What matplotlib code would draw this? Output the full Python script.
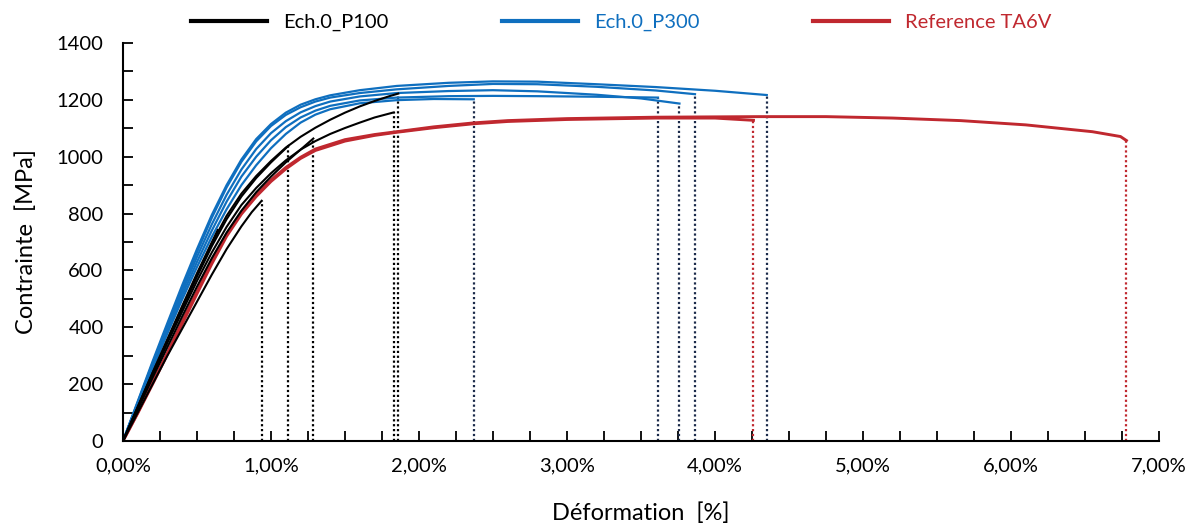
import matplotlib
matplotlib.use("Agg")
import matplotlib.pyplot as plt
from matplotlib.ticker import MultipleLocator, FuncFormatter

plt.rcParams['font.family'] = ['Lato', 'DejaVu Sans']

# ---- data (strain in %, stress in MPa) ----
# Ech.0_P100 (black)
k1_x = [0, 0.1, 0.2, 0.3, 0.4, 0.5, 0.6, 0.7, 0.8, 0.87, 0.937]
k1_y = [0, 100, 200, 300, 395, 490, 585, 675, 755, 805, 845]
k2_x = [0, 0.1, 0.2, 0.3, 0.4, 0.5, 0.6, 0.7, 0.8, 0.9, 1.0, 1.117]
k2_y = [0, 118, 235, 350, 465, 578, 685, 780, 860, 925, 980, 1038]
k3_x = [0, 0.1, 0.2, 0.3, 0.4, 0.5, 0.6, 0.7, 0.8, 0.9, 1.0, 1.1, 1.2, 1.286]
k3_y = [0, 112, 222, 330, 438, 543, 643, 733, 810, 875, 930, 980, 1025, 1064]
k4_x = [0, 0.1, 0.2, 0.3, 0.4, 0.5, 0.6, 0.7, 0.8, 0.9, 1.0, 1.1, 1.2, 1.3, 1.4, 1.5, 1.6, 1.7, 1.83]
k4_y = [0, 115, 230, 345, 455, 563, 663, 753, 830, 890, 942, 987, 1025, 1055, 1080, 1101, 1120, 1138, 1156]
k5_x = [0, 0.1, 0.2, 0.3, 0.4, 0.5, 0.6, 0.7, 0.8, 0.9, 1.0, 1.1, 1.2, 1.3, 1.4, 1.5, 1.6, 1.7, 1.8, 1.86]
k5_y = [0, 120, 240, 355, 470, 585, 695, 792, 870, 932, 985, 1032, 1070, 1102, 1130, 1155, 1177, 1196, 1213, 1222]
k6_x = [0, 0.1, 0.2, 0.3, 0.4, 0.5, 0.64]
k6_y = [0, 120, 240, 358, 475, 590, 742]

# Ech.0_P300 (blue)
b1_x = [0, 0.1, 0.2, 0.3, 0.4, 0.5, 0.6, 0.7, 0.8, 0.9, 1.0, 1.1, 1.2, 1.3, 1.4, 1.6, 1.85, 2.1, 2.37]
b1_y = [0, 128, 255, 378, 498, 612, 718, 815, 900, 970, 1030, 1080, 1120, 1148, 1167, 1188, 1199, 1203, 1202]
b2_x = [0, 0.1, 0.2, 0.3, 0.4, 0.5, 0.6, 0.7, 0.8, 0.9, 1.0, 1.1, 1.2, 1.3, 1.4, 1.6, 1.85, 2.2, 2.5, 2.8, 3.2, 3.615]
b2_y = [0, 131, 262, 388, 512, 630, 740, 842, 930, 1000, 1058, 1104, 1138, 1162, 1179, 1198, 1208, 1213, 1214, 1213, 1211, 1208]
b3_x = [0, 0.1, 0.2, 0.3, 0.4, 0.5, 0.6, 0.7, 0.8, 0.9, 1.0, 1.1, 1.2, 1.3, 1.4, 1.6, 1.85, 2.2, 2.5, 2.8, 3.2, 3.5, 3.76]
b3_y = [0, 134, 268, 398, 525, 648, 762, 866, 955, 1027, 1083, 1125, 1156, 1178, 1194, 1212, 1224, 1231, 1234, 1230, 1218, 1205, 1187]
b4_x = [0, 0.1, 0.2, 0.3, 0.4, 0.5, 0.6, 0.7, 0.8, 0.9, 1.0, 1.1, 1.2, 1.3, 1.4, 1.6, 1.85, 2.2, 2.5, 2.8, 3.2, 3.6, 3.865]
b4_y = [0, 137, 274, 406, 536, 664, 785, 892, 982, 1054, 1108, 1147, 1174, 1194, 1208, 1224, 1237, 1249, 1256, 1255, 1246, 1233, 1220]
b5_x = [0, 0.1, 0.2, 0.3, 0.4, 0.5, 0.6, 0.7, 0.8, 0.9, 1.0, 1.1, 1.2, 1.3, 1.4, 1.6, 1.85, 2.2, 2.5, 2.8, 3.2, 3.6, 4.0, 4.35]
b5_y = [0, 140, 280, 415, 548, 675, 795, 900, 990, 1062, 1115, 1155, 1183, 1202, 1216, 1234, 1249, 1260, 1265, 1264, 1255, 1245, 1232, 1217]

# Reference TA6V (red)
r1_x = [0, 0.1, 0.2, 0.3, 0.4, 0.5, 0.6, 0.7, 0.8, 0.9, 1.0, 1.1, 1.2, 1.3, 1.5, 1.7, 1.85, 2.1, 2.37,
        2.6, 3.0, 3.6, 4.3, 4.75, 5.2, 5.66, 6.1, 6.55, 6.74, 6.78]
r1_y = [0, 100, 205, 310, 420, 525, 632, 727, 803, 865, 918, 962, 998, 1027, 1060, 1078, 1088, 1105, 1119,
        1127, 1134, 1139, 1141, 1141, 1136, 1127, 1112, 1088, 1071, 1057]
r2_x = [0, 0.1, 0.2, 0.3, 0.4, 0.5, 0.6, 0.7, 0.8, 0.9, 1.0, 1.1, 1.2, 1.3, 1.5, 1.7, 1.85, 2.1, 2.37,
        2.6, 3.0, 3.6, 4.0, 4.26]
r2_y = [0, 98, 200, 305, 412, 518, 623, 720, 798, 860, 913, 957, 994, 1022, 1055, 1075, 1086, 1102, 1116,
        1124, 1131, 1136, 1136, 1128]

labels = ["Ech.0_P100", "Ech.0_P300", "Reference TA6V"]

BLACK = '#000000'
BLUE = '#0F6FBF'
RED = '#C0282F'
NAVY = '#1B2A4A'

fig = plt.figure(figsize=(12, 5.29), dpi=100)
ax = fig.add_axes([0.1025, 0.1664, 0.8633, 0.7523])

black_curves = [(k1_x, k1_y), (k2_x, k2_y), (k3_x, k3_y), (k4_x, k4_y), (k5_x, k5_y), (k6_x, k6_y)]
blue_curves = [(b1_x, b1_y), (b2_x, b2_y), (b3_x, b3_y), (b4_x, b4_y), (b5_x, b5_y)]
red_curves = [(r2_x, r2_y), (r1_x, r1_y)]

# dotted drop lines at rupture
for cx, cy in black_curves[:5]:
    ax.vlines(cx[-1], 0, cy[-1], colors=BLACK, linestyles=(0, (1, 1.2)), linewidth=1.6)
for cx, cy in blue_curves:
    ax.vlines(cx[-1], 0, cy[-1], colors=NAVY, linestyles=(0, (1, 1.2)), linewidth=1.6)
for cx, cy in red_curves:
    ax.vlines(cx[-1], 0, cy[-1], colors=RED, linestyles=(0, (1, 1.2)), linewidth=1.6)

for i, (cx, cy) in enumerate(blue_curves):
    ax.plot(cx, cy, color=BLUE, lw=1.6, label=labels[1] if i == 0 else None)
for i, (cx, cy) in enumerate(red_curves):
    ax.plot(cx, cy, color=RED, lw=2.1, label=labels[2] if i == 0 else None)
for i, (cx, cy) in enumerate(black_curves):
    ax.plot(cx, cy, color=BLACK, lw=1.5, label=labels[0] if i == 0 else None)

ax.set_xlim(0, 7)
ax.set_ylim(0, 1400)
ax.xaxis.set_major_locator(MultipleLocator(1))
ax.xaxis.set_minor_locator(MultipleLocator(0.25))
ax.yaxis.set_major_locator(MultipleLocator(200))
ax.yaxis.set_minor_locator(MultipleLocator(100))
ax.xaxis.set_major_formatter(FuncFormatter(lambda v, p: f"{v:.2f}%".replace('.', ',')))
ax.tick_params(axis='both', which='both', direction='in', length=7, width=1.3, labelsize=14.5, colors='black')
ax.tick_params(axis='x', which='major', pad=12)
ax.tick_params(axis='y', which='major', pad=14)

for s in ['top', 'right']:
    ax.spines[s].set_visible(False)
for s in ['left', 'bottom']:
    ax.spines[s].set_linewidth(1.5)
    ax.spines[s].set_color('black')

ax.set_xlabel("Déformation  [%]", fontsize=17, labelpad=20)
ax.set_ylabel("Contrainte  [MPa]", fontsize=17, labelpad=14)

handles, labs = ax.get_legend_handles_labels()
order = [labs.index(l) for l in labels]
leg = ax.legend([handles[i] for i in order], [labs[i] for i in order],
                loc='center', bbox_to_anchor=(0.481, 1.052), ncol=3, frameon=False,
                fontsize=14.5, handlelength=3.8, columnspacing=5.6, handletextpad=0.8,
                labelcolor='linecolor')
for h in leg.legend_handles:
    h.set_linewidth(3)

fig.savefig("out.png", dpi=100)
